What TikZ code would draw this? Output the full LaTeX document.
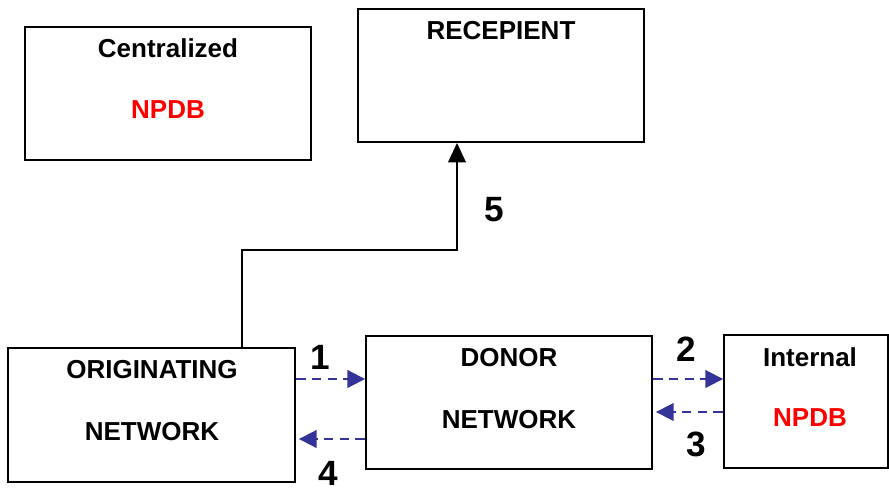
\documentclass[tikz,border=0pt]{standalone}
\usepackage{fontspec}
\setmainfont{Liberation Sans}
\usetikzlibrary{arrows.meta,positioning,calc}
\definecolor{msgcol}{RGB}{51,51,153}
\definecolor{dbcol}{RGB}{255,0,0}

\begin{document}
\begin{tikzpicture}[x=0.02cm,y=-0.02cm,
   box/.style={draw,line width=1.1pt,inner sep=0pt},
   txt/.style={font=\bfseries\fontsize{14.8}{16}\selectfont},
   num/.style={font=\bfseries\fontsize{20}{22}\selectfont},
   msg/.style={msgcol,line width=1.1pt,dash pattern=on 5.5pt off 3.5pt,-{Triangle[length=10pt,width=10pt]}},
   link/.style={line width=1.1pt,-{Triangle[length=11pt,width=10pt]}}]
  \useasboundingbox (0,0) rectangle (889,490);
  % ---------- boxes ----------
  \node[box,minimum width=5.72cm,minimum height=2.66cm] (central) at (168,93.5) {};
  \node[box,minimum width=5.72cm,minimum height=2.66cm] (recip) at (501,75.5) {};
  \node[box,minimum width=5.74cm,minimum height=2.68cm] (orig) at (151.5,415) {};
  \node[box,minimum width=5.72cm,minimum height=2.66cm] (donor) at (509,402.5) {};
  \node[box,minimum width=3.28cm,minimum height=2.66cm] (intern) at (806,401.5) {};
  % ---------- texts ----------
  \node[txt] (centralA) at (168,48) {Centralized};
  \node[txt,dbcol] (centralB) at (168,110) {NPDB};
  \node[txt] (recipA) at (501,31) {RECEPIENT};
  \node[txt] (origA) at (152,370) {ORIGINATING};
  \node[txt] (origB) at (152,432) {NETWORK};
  \node[txt] (donorA) at (509,358) {DONOR};
  \node[txt] (donorB) at (509,420) {NETWORK};
  \node[txt] (internA) at (810,357) {Internal};
  \node[txt,dbcol] (internB) at (810,418) {NPDB};
  % ---------- messages ----------
  \coordinate (r1) at (0,379);
  \coordinate (r3) at (0,412);
  \coordinate (r4) at (0,439);
  \coordinate (bend) at (457,250);
  \draw[msg] (orig.east|-r1) -- (donor.west|-r1);
  \draw[msg] (donor.east|-r1) -- (intern.west|-r1);
  \draw[msg] (intern.west|-r3) -- ([xshift=0.06cm]donor.east|-r3);
  \draw[msg] (donor.west|-r4) -- ([xshift=0.06cm]orig.east|-r4);
  \draw[link] ([xshift=1.81cm]orig.north) |- (bend) -- (recip.south-|bend);
  \node[num] (n1) at (320,357) {1};
  \node[num] (n2) at (686,349) {2};
  \node[num] (n3) at (696,444) {3};
  \node[num] (n4) at (328,473) {4};
  \node[num] (n5) at (494,210) {5};
\end{tikzpicture}
\end{document}
